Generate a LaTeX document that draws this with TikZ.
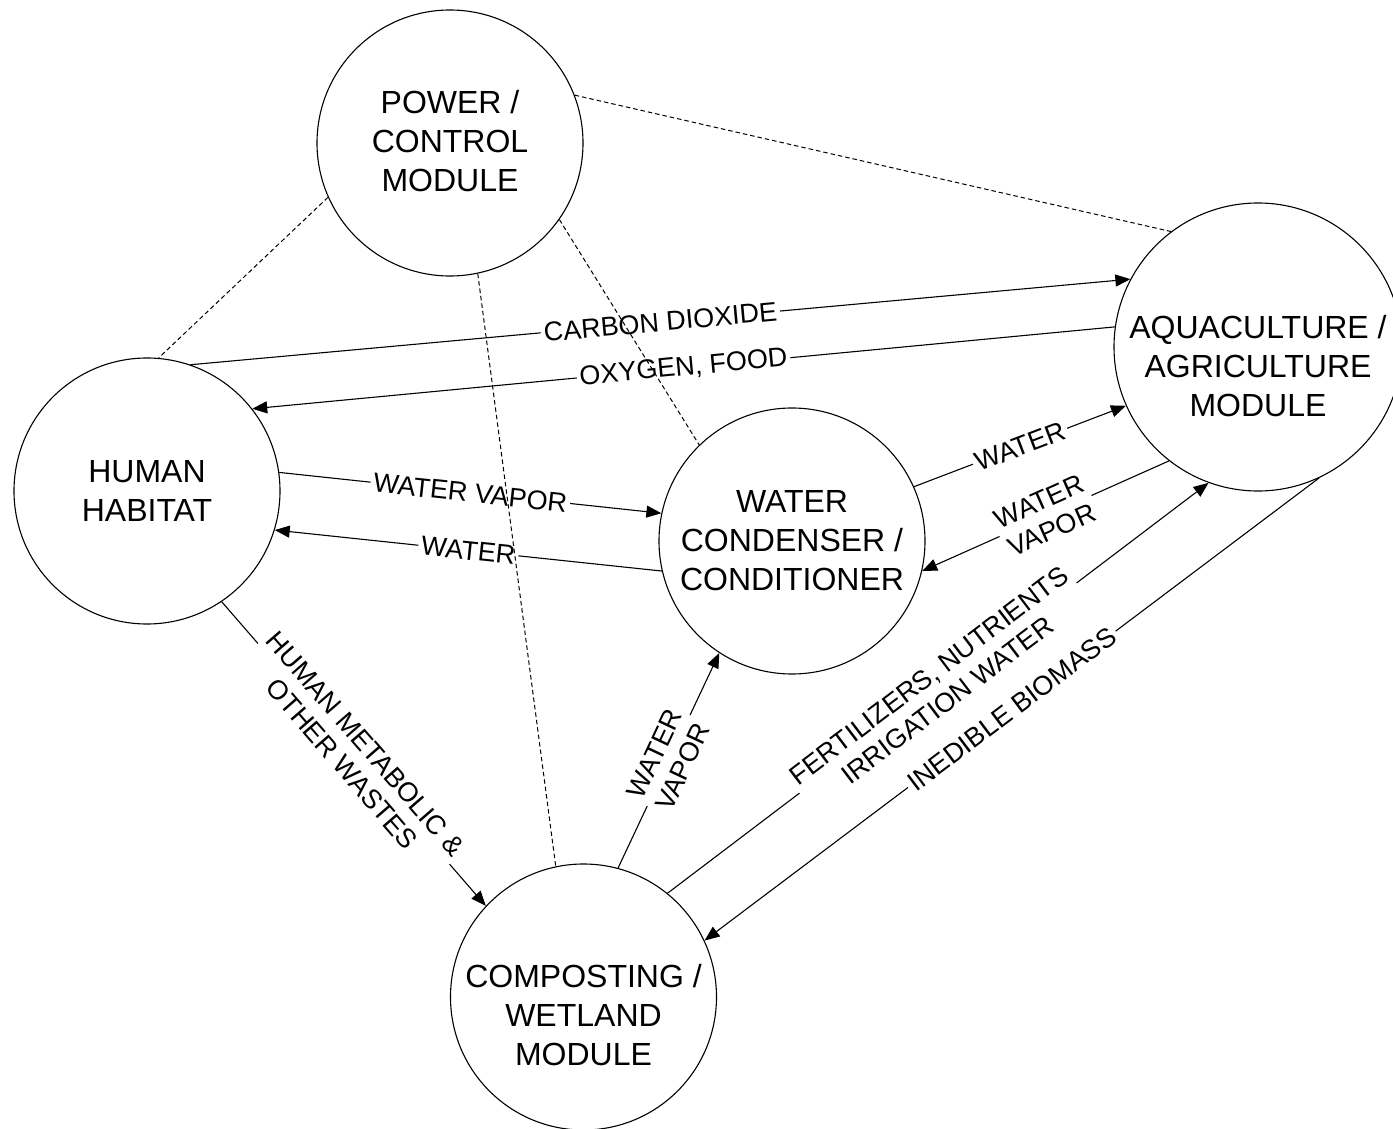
\documentclass[tikz,border=0pt]{standalone}
\usepackage{fontspec}
\setmainfont{Liberation Sans}
\usetikzlibrary{arrows.meta}
\begin{document}
\begin{tikzpicture}[x=0.5pt,y=-0.5pt,
  circ/.style={draw, circle, line width=0.55pt, minimum size=133pt, inner sep=0pt},
  ctext/.style={font=\fontsize{16}{19.5}\selectfont, align=center, inner sep=0pt},
  lbl/.style={font=\fontsize{13.5}{15.5}\selectfont, align=center, fill=white, inner sep=1.5pt, sloped, pos=0.5},
  flow/.style={line width=0.55pt, -{Triangle[length=7.5pt,width=6pt]}},
  ctrl/.style={line width=0.5pt, dash pattern=on 2.25pt off 1.5pt}]
\useasboundingbox (0,0) rectangle (1393,1129);
% modules
\node[circ] (power) at (450,143) {};
\node[circ] (human) at (147,491) {};
\node[circ] (cond) at (792,541) {};
\node[circ, minimum size=144pt] (aqua) at (1258,347) {};
\node[circ] (comp) at (583.5,997) {};
\node[ctext] (powert) at (450,141) {POWER /\\CONTROL\\MODULE};
\node[ctext] (humant) at (147,491) {HUMAN\\HABITAT};
\node[ctext] (condt) at (792,541) {WATER\\CONDENSER /\\CONDITIONER};
\node[ctext] (aquat) at (1258,366) {AQUACULTURE /\\AGRICULTURE\\MODULE};
\node[ctext] (compt) at (583.5,1015) {COMPOSTING /\\WETLAND\\MODULE};
% flows
\draw[flow] (human.71) -- node[lbl] {CARBON DIOXIDE} (aqua.152);
\draw[flow] (aqua.172) -- node[lbl] {OXYGEN, FOOD} (human.38);
\draw[flow] (human.8) -- node[lbl] {WATER VAPOR} (cond.168);
\draw[flow] (cond.193) -- node[lbl] {WATER} (human.-17);
\draw[flow] (cond.24) -- node[lbl] {WATER} (aqua.204);
\draw[flow] (aqua.232) -- node[lbl] {WATER\\VAPOR} (cond.-13);
\draw[flow] (human.-56) -- node[lbl] {HUMAN METABOLIC \&\\OTHER WASTES} (comp.137);
\draw[flow] (comp.75) -- node[lbl] {WATER\\VAPOR} (cond.237);
\draw[flow] (comp.51) -- node[lbl] {FERTILIZERS, NUTRIENTS\\IRRIGATION WATER} (aqua.250);
\draw[flow] (aqua.-65) -- node[lbl] {INEDIBLE BIOMASS} (comp.25);
% control links
\draw[ctrl] (power.204) -- (human.85);
\draw[ctrl] (power.21) -- (aqua.127);
\draw[ctrl] (power.-78) -- (comp.102);
\draw[ctrl] (power.-35) -- (cond.134);
\end{tikzpicture}
\end{document}
